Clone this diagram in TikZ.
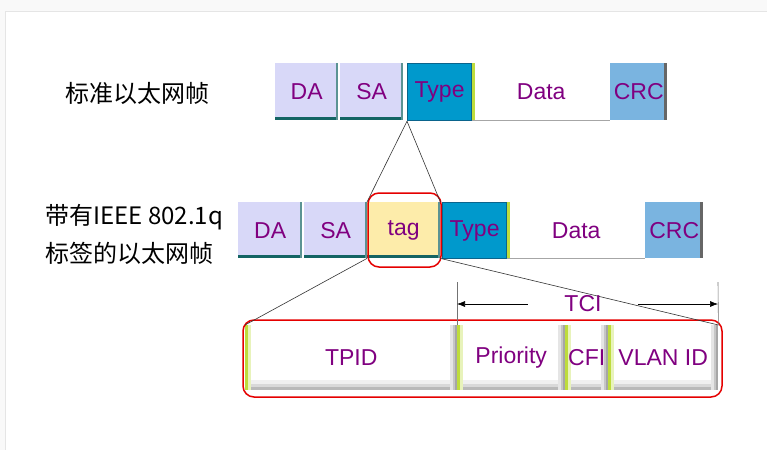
\documentclass[tikz,border=0pt]{standalone}
\usepackage{fontspec}
\setmainfont{Liberation Sans}
\newfontfamily\cjk{Noto Sans CJK SC}
\usetikzlibrary{arrows.meta}

\definecolor{fieldtext}{RGB}{128,0,128}
\definecolor{lav}{RGB}{216,216,248}
\definecolor{typeblue}{RGB}{0,153,204}
\definecolor{typeedge}{RGB}{10,100,140}
\definecolor{crcblue}{RGB}{122,180,224}
\definecolor{tagyel}{RGB}{253,236,170}
\definecolor{edgeteal}{RGB}{20,100,100}
\definecolor{leafgreen}{RGB}{190,220,60}

\tikzset{
  field/.style={minimum height=57pt, inner sep=0pt, anchor=north west,
    text=fieldtext, font=\fontsize{23}{25}\selectfont},
  lavfield/.style={field, fill=#1,
    path picture={\fill[edgeteal] (path picture bounding box.south west) rectangle ([yshift=3pt]path picture bounding box.south east);
      \fill[edgeteal!70] (path picture bounding box.south east) rectangle ([xshift=-2pt]path picture bounding box.north east);}},
  typefield/.style={field, fill=typeblue, draw=typeedge, line width=1.2pt},
  datafield/.style={field, fill=white,
    path picture={\fill[leafgreen] (path picture bounding box.south west) rectangle ([xshift=3pt]path picture bounding box.north west);
      \draw[gray!70] (path picture bounding box.south west) -- (path picture bounding box.south east);}},
  crcfield/.style={field, fill=crcblue,
    path picture={\fill[black!60] (path picture bounding box.south east) rectangle ([xshift=-3pt]path picture bounding box.north east);}},
  tagpart/.style={field, minimum height=65pt, fill=white,
    path picture={
      \fill[gray!12] (path picture bounding box.south west) rectangle ([yshift=10pt]path picture bounding box.south east);
      \fill[gray!30] (path picture bounding box.south west) rectangle ([yshift=6pt]path picture bounding box.south east);
      \fill[gray!55] (path picture bounding box.south west) rectangle ([yshift=3pt]path picture bounding box.south east);
      \fill[gray!20] (path picture bounding box.south east) rectangle ([xshift=-7pt]path picture bounding box.north east);
      \fill[gray!45] (path picture bounding box.south east) rectangle ([xshift=-4pt]path picture bounding box.north east);
      \fill[gray!70] (path picture bounding box.south east) rectangle ([xshift=-2pt]path picture bounding box.north east);
      \fill[leafgreen!35] (path picture bounding box.south west) rectangle ([xshift=6pt]path picture bounding box.north west);
      \fill[leafgreen] (path picture bounding box.south west) rectangle ([xshift=3pt]path picture bounding box.north west);}},
  cnlabel/.style={font=\cjk\fontsize{24}{38}\selectfont, align=left},
  redbox/.style={draw=red!90!black, line width=1.5pt, rounded corners=11pt},
  link/.style={draw=black!80, line width=0.6pt},
  dim/.style={draw=black!55, line width=0.6pt}
}

\begin{document}
\begin{tikzpicture}[x=1pt,y=-1pt]
  \useasboundingbox (0,0) rectangle (767,450);
  \fill[gray!5] (0,0) rectangle (767,450);
  \fill[white] (5,11) rectangle (767,450);
  \draw[gray!20] (5,450) -- (5,11) -- (767,11);

  % standard ethernet frame
  \node[cnlabel] (std) at (137,93) {标准以太网帧};
  \node[lavfield=lav, minimum width=63pt] (da1) at (275,63) {DA};
  \node[lavfield=lav, minimum width=63pt] (sa1) at (340,63) {SA};
  \node[typefield, minimum width=64pt] (type1) at (407,63) {Type};
  \node[datafield, minimum width=138pt] (data1) at (472,63) {Data};
  \node[crcfield, minimum width=57pt] (crc1) at (610,63) {CRC};

  % 802.1q tagged frame
  \node[cnlabel, anchor=west] (tagged) at (42,234) {带有IEEE 802.1q\\标签的以太网帧};
  \node[lavfield=lav, minimum width=64pt, minimum height=56pt] (da2) at (238,202) {DA};
  \node[lavfield=lav, minimum width=63pt, minimum height=56pt] (sa2) at (304,202) {SA};
  \node[lavfield=tagyel, minimum width=73pt, minimum height=56pt] (tag) at (367,202) {tag};
  \node[typefield, minimum width=64pt, minimum height=56pt] (type2) at (442,202) {Type};
  \node[datafield, minimum width=138pt, minimum height=56pt] (data2) at (507,202) {Data};
  \node[crcfield, minimum width=58pt, minimum height=56pt] (crc2) at (645,202) {CRC};
  \draw[redbox] (368,193) rectangle (441,267);

  % tag fields
  \node[tagpart, minimum width=212pt] (tpid) at (245,325) {TPID};
  \node[tagpart, minimum width=108pt] (prio) at (457,325) {Priority};
  \node[tagpart, minimum width=43pt] (cfi) at (565,325) {CFI};
  \node[tagpart, minimum width=110pt] (vid) at (608,325) {VLAN ID};
  \draw[redbox] (243,320) rectangle (722,397);

  \draw[link] (type1.south west) -- (tag.north west);
  \draw[link] (type1.south west) -- (tag.north east);
  \draw[link] (tag.south west) -- (tpid.north west);
  \draw[link] (tag.south east) -- (vid.north east);

  % TCI
  \coordinate (tcia) at (457,282);
  \coordinate (tcib) at (718,282);
  \node[text=fieldtext, font=\fontsize{23}{25}\selectfont, minimum width=110pt, inner sep=0pt] (tci) at (583,304) {TCI};
  \draw[dim] (tcia) -- (prio.north west);
  \draw[dim] (tcib) -- (vid.north east);
  \draw[-{Latex[length=8pt,width=6pt]}, line width=0.6pt] (tci.west) -- (tcia |- tci.west);
  \draw[-{Latex[length=8pt,width=6pt]}, line width=0.6pt] (tci.east) -- (tcib |- tci.east);
\end{tikzpicture}
\end{document}
